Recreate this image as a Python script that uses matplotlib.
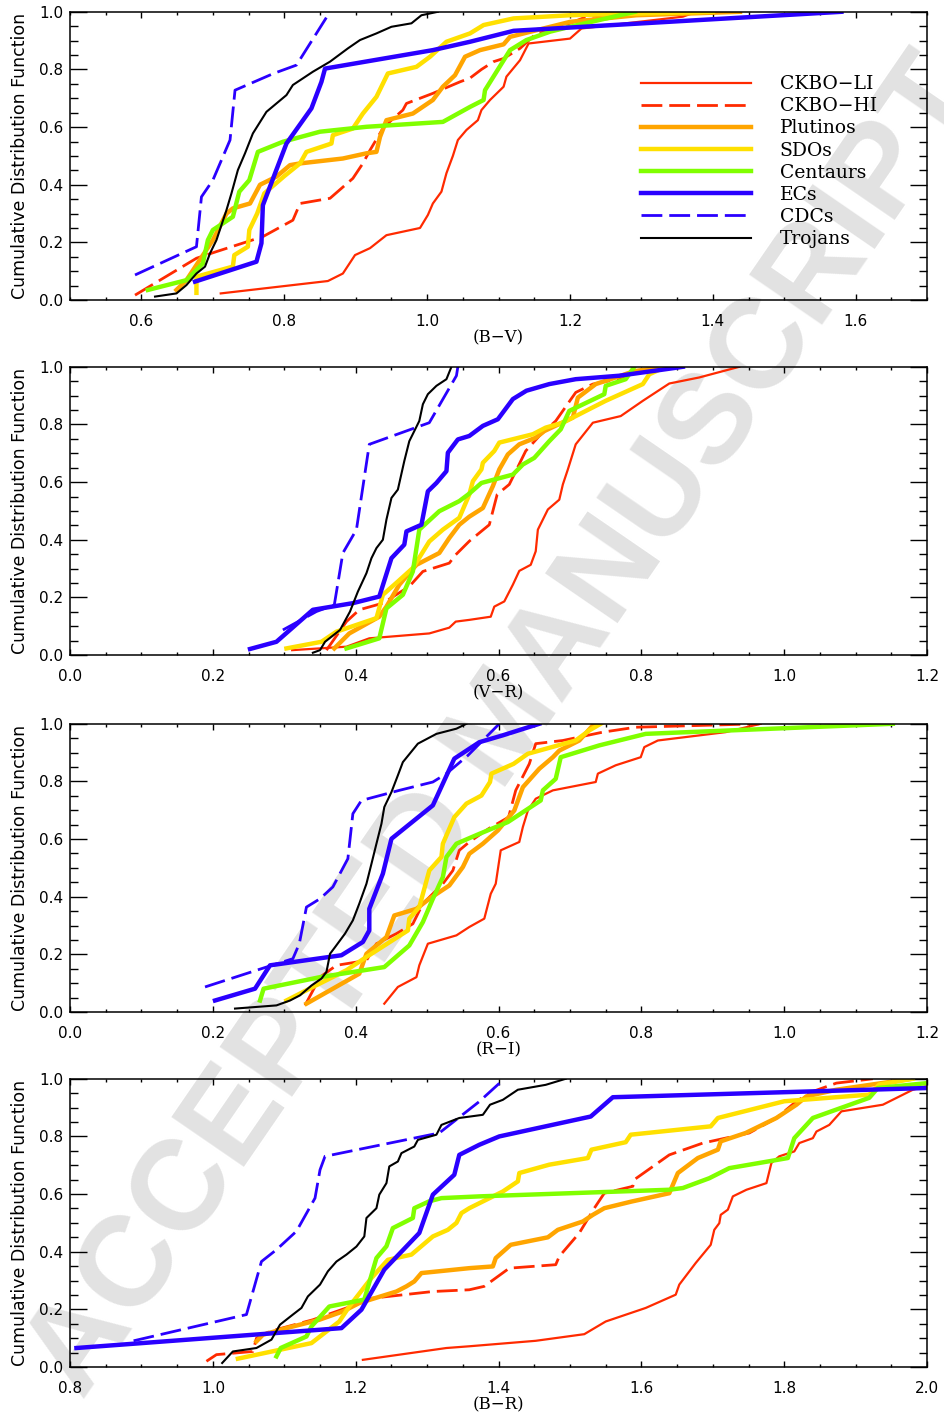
import matplotlib
matplotlib.use('Agg')
import matplotlib.pyplot as plt
from matplotlib.ticker import MultipleLocator

plt.rcParams['lines.scale_dashes'] = False

# ---- data: cumulative distributions ----
labels = ['CKBO−LI', 'CKBO−HI', 'Plutinos', 'SDOs', 'Centaurs', 'ECs', 'CDCs', 'Trojans']
colors = ['#ff2a00', '#ff2a00', '#ffa500', '#ffe000', '#80ff00', '#2a00ff', '#2a00ff', '#000000']
widths = [1.6, 2.0, 3.2, 3.2, 3.2, 3.2, 2.0, 1.5]
styles = ['-', (0, (15, 5)), '-', '-', '-', '-', (0, (15, 5)), '-']

# (B-V)
bv_li_x = [0.711, 0.861, 0.882, 0.899, 0.920, 0.943, 0.990, 1.001, 1.008, 1.020, 1.027, 1.036, 1.043, 1.055, 1.071, 1.076, 1.088, 1.107, 1.111, 1.130, 1.142, 1.200, 1.216, 1.358, 1.377]
bv_li_y = [0.023, 0.066, 0.092, 0.156, 0.180, 0.225, 0.250, 0.295, 0.335, 0.376, 0.440, 0.500, 0.555, 0.590, 0.624, 0.659, 0.694, 0.740, 0.775, 0.832, 0.890, 0.907, 0.942, 0.983, 1.000]
bv_hi_x = [0.591, 0.677, 0.705, 0.770, 0.812, 0.822, 0.864, 0.896, 0.910, 0.920, 0.938, 0.950, 0.966, 0.971, 1.008, 1.046, 1.060, 1.076, 1.093, 1.107, 1.130, 1.153, 1.172, 1.200, 1.223, 1.307]
bv_hi_y = [0.017, 0.145, 0.168, 0.220, 0.277, 0.335, 0.353, 0.422, 0.474, 0.520, 0.595, 0.624, 0.659, 0.682, 0.717, 0.757, 0.770, 0.800, 0.827, 0.838, 0.873, 0.925, 0.942, 0.960, 0.983, 1.000]
bv_plu_x = [0.649, 0.663, 0.700, 0.719, 0.728, 0.752, 0.766, 0.789, 0.808, 0.822, 0.882, 0.915, 0.929, 0.934, 0.943, 0.980, 1.008, 1.022, 1.039, 1.053, 1.074, 1.107, 1.116, 1.153, 1.200, 1.293, 1.438]
bv_plu_y = [0.035, 0.069, 0.208, 0.300, 0.318, 0.335, 0.400, 0.428, 0.468, 0.474, 0.491, 0.509, 0.514, 0.566, 0.624, 0.647, 0.694, 0.740, 0.780, 0.844, 0.867, 0.887, 0.913, 0.936, 0.965, 0.988, 1.000]
bv_sdo_x = [0.677, 0.677, 0.728, 0.730, 0.749, 0.751, 0.762, 0.772, 0.800, 0.822, 0.831, 0.866, 0.868, 0.896, 0.910, 0.929, 0.945, 0.985, 1.004, 1.027, 1.060, 1.079, 1.121, 1.200, 1.400]
bv_sdo_y = [0.025, 0.081, 0.116, 0.156, 0.185, 0.243, 0.300, 0.370, 0.430, 0.474, 0.514, 0.543, 0.572, 0.595, 0.647, 0.705, 0.786, 0.809, 0.844, 0.896, 0.925, 0.954, 0.977, 0.988, 1.000]
bv_cen_x = [0.609, 0.663, 0.686, 0.693, 0.700, 0.728, 0.737, 0.751, 0.763, 0.798, 0.850, 0.915, 1.022, 1.060, 1.079, 1.081, 1.116, 1.139, 1.172, 1.200, 1.291]
bv_cen_y = [0.035, 0.069, 0.127, 0.208, 0.243, 0.289, 0.376, 0.416, 0.514, 0.549, 0.584, 0.601, 0.618, 0.670, 0.694, 0.728, 0.867, 0.902, 0.931, 0.948, 1.000]
bv_ec_x = [0.675, 0.761, 0.768, 0.770, 0.803, 0.838, 0.852, 0.857, 1.008, 1.060, 1.121, 1.580]
bv_ec_y = [0.064, 0.133, 0.197, 0.329, 0.543, 0.665, 0.757, 0.803, 0.867, 0.896, 0.934, 1.000]
bv_cdc_x = [0.591, 0.677, 0.684, 0.700, 0.724, 0.731, 0.785, 0.817, 0.864]
bv_cdc_y = [0.087, 0.185, 0.358, 0.416, 0.555, 0.728, 0.786, 0.815, 1.000]
bv_tro_x = [0.619, 0.649, 0.663, 0.677, 0.689, 0.696, 0.705, 0.719, 0.726, 0.735, 0.745, 0.756, 0.775, 0.803, 0.812, 0.840, 0.864, 0.889, 0.906, 0.929, 0.950, 0.978, 0.992, 1.015]
bv_tro_y = [0.012, 0.023, 0.052, 0.092, 0.116, 0.162, 0.208, 0.312, 0.370, 0.451, 0.509, 0.578, 0.653, 0.711, 0.746, 0.792, 0.827, 0.873, 0.902, 0.925, 0.948, 0.960, 0.988, 1.000]

# (V-R)
vr_li_x = [0.311, 0.387, 0.419, 0.503, 0.531, 0.540, 0.559, 0.589, 0.594, 0.608, 0.620, 0.629, 0.645, 0.652, 0.655, 0.669, 0.685, 0.690, 0.697, 0.708, 0.732, 0.771, 0.802, 0.839, 0.881, 0.937]
vr_li_y = [0.017, 0.029, 0.058, 0.075, 0.095, 0.116, 0.122, 0.133, 0.168, 0.186, 0.244, 0.292, 0.313, 0.360, 0.435, 0.505, 0.539, 0.592, 0.644, 0.731, 0.806, 0.829, 0.882, 0.942, 0.963, 1.000]
vr_hi_x = [0.359, 0.387, 0.405, 0.438, 0.475, 0.494, 0.531, 0.540, 0.559, 0.587, 0.598, 0.615, 0.638, 0.657, 0.680, 0.708, 0.732, 0.778, 0.792]
vr_hi_y = [0.017, 0.116, 0.157, 0.180, 0.238, 0.290, 0.319, 0.348, 0.395, 0.452, 0.557, 0.592, 0.708, 0.760, 0.812, 0.911, 0.940, 0.963, 1.000]
vr_plu_x = [0.370, 0.391, 0.433, 0.443, 0.461, 0.485, 0.517, 0.531, 0.545, 0.559, 0.578, 0.592, 0.601, 0.613, 0.629, 0.652, 0.664, 0.704, 0.711, 0.736, 0.764, 0.790, 0.835]
vr_plu_y = [0.023, 0.075, 0.133, 0.168, 0.244, 0.313, 0.354, 0.406, 0.452, 0.480, 0.510, 0.586, 0.644, 0.696, 0.731, 0.754, 0.777, 0.824, 0.893, 0.940, 0.963, 0.985, 1.000]
vr_sdo_x = [0.303, 0.352, 0.373, 0.429, 0.438, 0.459, 0.480, 0.503, 0.522, 0.545, 0.559, 0.564, 0.576, 0.578, 0.594, 0.601, 0.648, 0.666, 0.690, 0.727, 0.750, 0.802, 0.811, 0.834]
vr_sdo_y = [0.023, 0.046, 0.081, 0.128, 0.209, 0.255, 0.302, 0.394, 0.435, 0.476, 0.557, 0.603, 0.644, 0.667, 0.708, 0.737, 0.766, 0.789, 0.806, 0.853, 0.882, 0.940, 0.974, 1.000]
vr_cen_x = [0.387, 0.433, 0.443, 0.466, 0.480, 0.489, 0.517, 0.545, 0.559, 0.576, 0.620, 0.634, 0.650, 0.671, 0.687, 0.699, 0.748, 0.750, 0.778, 0.790]
vr_cen_y = [0.023, 0.058, 0.162, 0.209, 0.290, 0.435, 0.499, 0.534, 0.560, 0.597, 0.626, 0.661, 0.684, 0.742, 0.783, 0.847, 0.905, 0.934, 0.957, 1.000]
vr_ec_x = [0.252, 0.289, 0.340, 0.396, 0.433, 0.450, 0.468, 0.471, 0.492, 0.501, 0.513, 0.527, 0.529, 0.543, 0.559, 0.578, 0.599, 0.620, 0.639, 0.671, 0.708, 0.769, 0.858]
vr_ec_y = [0.021, 0.046, 0.157, 0.180, 0.203, 0.336, 0.383, 0.429, 0.452, 0.568, 0.597, 0.638, 0.702, 0.748, 0.760, 0.795, 0.818, 0.888, 0.917, 0.940, 0.957, 0.969, 1.000]
vr_cdc_x = [0.298, 0.345, 0.370, 0.382, 0.401, 0.419, 0.503, 0.541, 0.543]
vr_cdc_y = [0.087, 0.151, 0.174, 0.354, 0.435, 0.731, 0.806, 0.969, 1.000]
vr_tro_x = [0.340, 0.350, 0.357, 0.378, 0.392, 0.403, 0.415, 0.422, 0.429, 0.438, 0.443, 0.450, 0.459, 0.468, 0.475, 0.489, 0.494, 0.501, 0.513, 0.527, 0.534]
vr_tro_y = [0.008, 0.017, 0.046, 0.087, 0.151, 0.220, 0.284, 0.336, 0.371, 0.400, 0.470, 0.545, 0.574, 0.673, 0.742, 0.812, 0.870, 0.905, 0.934, 0.957, 1.000]

# (R-I)
ri_li_x = [0.440, 0.459, 0.485, 0.489, 0.501, 0.541, 0.559, 0.580, 0.589, 0.596, 0.603, 0.629, 0.634, 0.641, 0.652, 0.676, 0.736, 0.739, 0.764, 0.799, 0.804, 0.823, 0.918, 0.967]
ri_li_y = [0.029, 0.087, 0.121, 0.162, 0.237, 0.266, 0.295, 0.324, 0.410, 0.445, 0.561, 0.590, 0.642, 0.699, 0.740, 0.769, 0.798, 0.827, 0.856, 0.884, 0.919, 0.942, 0.971, 1.000]
ri_hi_x = [0.329, 0.350, 0.373, 0.415, 0.429, 0.457, 0.480, 0.494, 0.522, 0.536, 0.545, 0.559, 0.586, 0.614, 0.624, 0.643, 0.652, 0.690, 0.746, 0.792, 0.965]
ri_hi_y = [0.023, 0.121, 0.162, 0.179, 0.237, 0.272, 0.306, 0.376, 0.445, 0.491, 0.561, 0.590, 0.636, 0.676, 0.769, 0.861, 0.931, 0.942, 0.971, 0.988, 1.000]
ri_plu_x = [0.331, 0.368, 0.405, 0.415, 0.443, 0.454, 0.485, 0.503, 0.531, 0.550, 0.559, 0.578, 0.599, 0.622, 0.634, 0.657, 0.676, 0.685, 0.713, 0.734]
ri_plu_y = [0.029, 0.081, 0.133, 0.202, 0.260, 0.335, 0.358, 0.393, 0.439, 0.503, 0.549, 0.584, 0.630, 0.699, 0.780, 0.844, 0.884, 0.907, 0.942, 1.000]
ri_sdo_x = [0.303, 0.340, 0.387, 0.415, 0.473, 0.475, 0.489, 0.503, 0.520, 0.522, 0.538, 0.555, 0.576, 0.588, 0.590, 0.621, 0.641, 0.708, 0.727, 0.743]
ri_sdo_y = [0.040, 0.087, 0.145, 0.191, 0.283, 0.324, 0.364, 0.491, 0.538, 0.584, 0.676, 0.723, 0.751, 0.798, 0.827, 0.861, 0.896, 0.942, 0.977, 1.000]
ri_cen_x = [0.266, 0.271, 0.350, 0.440, 0.475, 0.494, 0.508, 0.522, 0.527, 0.541, 0.573, 0.613, 0.659, 0.662, 0.680, 0.687, 0.741, 0.806, 1.152]
ri_cen_y = [0.040, 0.081, 0.121, 0.156, 0.231, 0.312, 0.393, 0.468, 0.538, 0.584, 0.618, 0.659, 0.734, 0.769, 0.809, 0.884, 0.925, 0.965, 1.000]
ri_ec_x = [0.203, 0.259, 0.280, 0.380, 0.410, 0.419, 0.419, 0.438, 0.450, 0.508, 0.538, 0.573, 0.606, 0.657]
ri_ec_y = [0.040, 0.081, 0.162, 0.197, 0.243, 0.283, 0.358, 0.480, 0.601, 0.717, 0.879, 0.936, 0.960, 1.000]
ri_cdc_x = [0.189, 0.275, 0.312, 0.321, 0.331, 0.350, 0.368, 0.389, 0.396, 0.408, 0.461, 0.508, 0.527, 0.557, 0.601]
ri_cdc_y = [0.087, 0.156, 0.185, 0.237, 0.364, 0.393, 0.434, 0.532, 0.688, 0.734, 0.769, 0.798, 0.827, 0.890, 1.000]
ri_tro_x = [0.231, 0.289, 0.308, 0.322, 0.338, 0.352, 0.359, 0.364, 0.371, 0.385, 0.396, 0.405, 0.415, 0.422, 0.429, 0.436, 0.440, 0.450, 0.459, 0.466, 0.487, 0.513, 0.541, 0.555]
ri_tro_y = [0.012, 0.023, 0.040, 0.058, 0.092, 0.116, 0.139, 0.202, 0.225, 0.272, 0.318, 0.376, 0.445, 0.514, 0.584, 0.653, 0.711, 0.763, 0.821, 0.867, 0.931, 0.965, 0.983, 1.000]

# (B-R)
br_li_x = [1.210, 1.327, 1.359, 1.452, 1.520, 1.550, 1.606, 1.648, 1.653, 1.676, 1.697, 1.702, 1.709, 1.711, 1.721, 1.728, 1.747, 1.775, 1.782, 1.793, 1.814, 1.821, 1.840, 1.845, 1.863, 1.880, 1.938, 1.980, 2.000]
br_li_y = [0.025, 0.066, 0.072, 0.091, 0.114, 0.158, 0.205, 0.251, 0.286, 0.361, 0.424, 0.476, 0.499, 0.528, 0.546, 0.592, 0.615, 0.638, 0.708, 0.731, 0.748, 0.777, 0.794, 0.817, 0.840, 0.887, 0.910, 0.962, 0.975]
br_hi_x = [0.991, 1.005, 1.056, 1.061, 1.080, 1.140, 1.187, 1.224, 1.308, 1.359, 1.380, 1.415, 1.480, 1.485, 1.513, 1.534, 1.548, 1.588, 1.590, 1.639, 1.686, 1.751, 1.789, 1.817, 1.840, 1.873, 1.924]
br_hi_y = [0.020, 0.043, 0.054, 0.100, 0.124, 0.164, 0.205, 0.239, 0.262, 0.268, 0.280, 0.343, 0.355, 0.384, 0.465, 0.551, 0.603, 0.627, 0.650, 0.736, 0.777, 0.812, 0.864, 0.922, 0.956, 0.985, 1.000]
br_plu_x = [1.061, 1.070, 1.103, 1.149, 1.182, 1.205, 1.257, 1.271, 1.282, 1.292, 1.359, 1.392, 1.396, 1.417, 1.469, 1.483, 1.518, 1.532, 1.548, 1.586, 1.639, 1.651, 1.679, 1.707, 1.711, 1.746, 1.789, 1.817, 1.831, 1.873, 1.978]
br_plu_y = [0.089, 0.112, 0.135, 0.164, 0.193, 0.222, 0.262, 0.280, 0.297, 0.326, 0.343, 0.349, 0.378, 0.424, 0.450, 0.476, 0.505, 0.528, 0.551, 0.574, 0.603, 0.673, 0.725, 0.754, 0.783, 0.812, 0.864, 0.910, 0.939, 0.962, 1.000]
br_sdo_x = [1.035, 1.138, 1.177, 1.191, 1.222, 1.245, 1.278, 1.308, 1.329, 1.341, 1.348, 1.359, 1.406, 1.427, 1.429, 1.471, 1.525, 1.530, 1.578, 1.585, 1.697, 1.707, 1.800, 1.919, 1.926, 1.933, 1.980]
br_sdo_y = [0.029, 0.083, 0.158, 0.210, 0.309, 0.372, 0.390, 0.453, 0.476, 0.500, 0.534, 0.551, 0.609, 0.644, 0.673, 0.702, 0.725, 0.754, 0.780, 0.806, 0.835, 0.864, 0.922, 0.945, 0.962, 0.980, 1.000]
br_cen_x = [1.089, 1.095, 1.131, 1.138, 1.163, 1.212, 1.229, 1.243, 1.252, 1.280, 1.282, 1.303, 1.320, 1.373, 1.639, 1.658, 1.695, 1.723, 1.805, 1.814, 1.840, 1.919, 1.931, 2.000]
br_cen_y = [0.037, 0.066, 0.106, 0.141, 0.210, 0.234, 0.378, 0.419, 0.482, 0.517, 0.551, 0.575, 0.586, 0.592, 0.615, 0.621, 0.655, 0.690, 0.725, 0.794, 0.864, 0.934, 0.968, 0.985]
br_ec_x = [0.809, 1.180, 1.208, 1.240, 1.289, 1.308, 1.338, 1.345, 1.373, 1.401, 1.529, 1.560, 2.000]
br_ec_y = [0.066, 0.135, 0.199, 0.338, 0.465, 0.598, 0.667, 0.736, 0.771, 0.800, 0.869, 0.936, 0.968]
br_cdc_x = [0.889, 1.047, 1.068, 1.089, 1.117, 1.143, 1.150, 1.157, 1.317, 1.373, 1.408]
br_cdc_y = [0.091, 0.182, 0.366, 0.407, 0.471, 0.586, 0.684, 0.731, 0.812, 0.921, 1.000]
br_tro_x = [1.013, 1.028, 1.061, 1.082, 1.094, 1.112, 1.124, 1.133, 1.150, 1.161, 1.173, 1.187, 1.201, 1.212, 1.215, 1.229, 1.233, 1.243, 1.247, 1.259, 1.264, 1.282, 1.287, 1.313, 1.320, 1.345, 1.378, 1.388, 1.406, 1.427, 1.466, 1.494]
br_tro_y = [0.014, 0.054, 0.066, 0.095, 0.147, 0.182, 0.205, 0.245, 0.286, 0.332, 0.366, 0.390, 0.418, 0.453, 0.517, 0.551, 0.598, 0.638, 0.696, 0.713, 0.742, 0.765, 0.788, 0.806, 0.840, 0.864, 0.875, 0.910, 0.927, 0.962, 0.979, 1.000]

panels = [
    ('(B−V)', (0.5, 1.7), [(bv_li_x, bv_li_y), (bv_hi_x, bv_hi_y), (bv_plu_x, bv_plu_y), (bv_sdo_x, bv_sdo_y),
                          (bv_cen_x, bv_cen_y), (bv_ec_x, bv_ec_y), (bv_cdc_x, bv_cdc_y), (bv_tro_x, bv_tro_y)]),
    ('(V−R)', (0.0, 1.2), [(vr_li_x, vr_li_y), (vr_hi_x, vr_hi_y), (vr_plu_x, vr_plu_y), (vr_sdo_x, vr_sdo_y),
                          (vr_cen_x, vr_cen_y), (vr_ec_x, vr_ec_y), (vr_cdc_x, vr_cdc_y), (vr_tro_x, vr_tro_y)]),
    ('(R−I)', (0.0, 1.2), [(ri_li_x, ri_li_y), (ri_hi_x, ri_hi_y), (ri_plu_x, ri_plu_y), (ri_sdo_x, ri_sdo_y),
                          (ri_cen_x, ri_cen_y), (ri_ec_x, ri_ec_y), (ri_cdc_x, ri_cdc_y), (ri_tro_x, ri_tro_y)]),
    ('(B−R)', (0.8, 2.0), [(br_li_x, br_li_y), (br_hi_x, br_hi_y), (br_plu_x, br_plu_y), (br_sdo_x, br_sdo_y),
                          (br_cen_x, br_cen_y), (br_ec_x, br_ec_y), (br_cdc_x, br_cdc_y), (br_tro_x, br_tro_y)]),
]

fig = plt.figure(figsize=(9.45, 14.2), dpi=100)

# watermark behind everything
fig.text(0.535, 0.487, 'ACCEPTED MANUSCRIPT', rotation=55.5, color='#e2e2e2', fontsize=92,
         family='Liberation Sans', weight='bold', ha='center', va='center', zorder=-5)

bottoms = [0.7887, 0.5387, 0.2873, 0.0373]
for i, (xlab, xlim, curves) in enumerate(panels):
    ax = fig.add_axes([0.0741, bottoms[i], 0.907, 0.203])
    ax.patch.set_alpha(0)
    for (x, y), lab, c, lw, ls in zip(curves, labels, colors, widths, styles):
        ax.plot(x, y, color=c, lw=lw, ls=ls, label=lab)
    ax.set_xlim(*xlim)
    ax.set_ylim(0, 1.0)
    ax.xaxis.set_major_locator(MultipleLocator(0.2))
    ax.xaxis.set_minor_locator(MultipleLocator(0.05))
    ax.yaxis.set_major_locator(MultipleLocator(0.2))
    ax.yaxis.set_minor_locator(MultipleLocator(0.05))
    ax.xaxis.set_major_formatter(plt.FormatStrFormatter('%.1f'))
    ax.yaxis.set_major_formatter(plt.FormatStrFormatter('%.1f'))
    ax.tick_params(which='both', direction='in', top=True, right=True, width=1.0, labelsize=11)
    ax.tick_params(axis='y', which='major', length=12, pad=5)
    ax.tick_params(axis='y', which='minor', length=6)
    ax.tick_params(axis='x', which='major', length=4, pad=10)
    ax.tick_params(axis='x', which='minor', length=2.5)
    for t in ax.get_xticklabels() + ax.get_yticklabels():
        t.set_family('DejaVu Sans')
    for s in ax.spines.values():
        s.set_linewidth(1.1)
    ax.text(0.5, -0.132, xlab, transform=ax.transAxes, ha='center', va='center',
            fontsize=12, family='DejaVu Serif')
    ax.text(-0.058, 0.5, 'Cumulative Distribution Function', transform=ax.transAxes, rotation=90,
            ha='center', va='center', fontsize=12.5, family='DejaVu Sans')
    if i == 0:
        ax.legend(loc='upper left', bbox_to_anchor=(0.666, 0.78), frameon=False, borderpad=0,
                  borderaxespad=0, handlelength=5.9, handletextpad=1.5, labelspacing=0.22,
                  prop={'family': 'DejaVu Serif', 'size': 13.5})

fig.savefig('out.png', dpi=100)
